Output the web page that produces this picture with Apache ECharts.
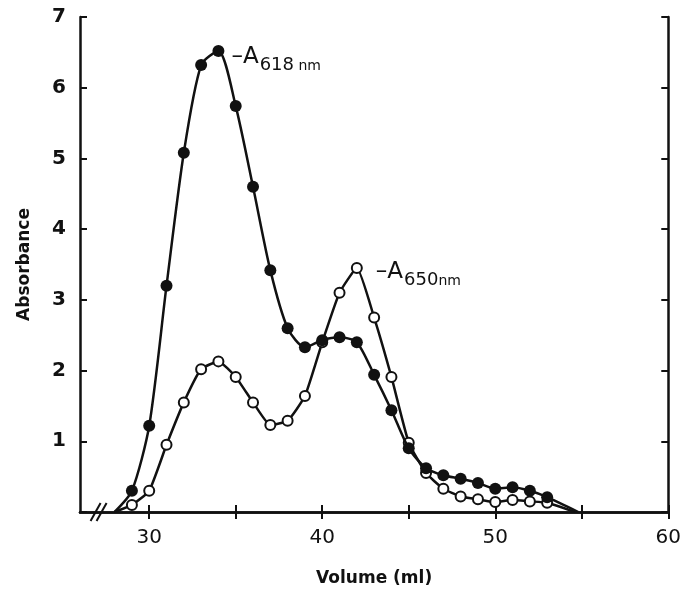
<!DOCTYPE html>
<html>
<head>
<meta charset="utf-8">
<script src="https://cdn.jsdelivr.net/npm/echarts@6/dist/echarts.min.js"></script>
<style>
  html, body { margin: 0; padding: 0; background: #fff; }
  #chart { width: 684px; height: 592px; }
</style>
</head>
<body>
<div id="chart"></div>
<script>
// elution volumes (ml)
const volume = [29, 30, 31, 32, 33, 34, 35, 36, 37, 38, 39, 40, 41, 42, 43, 44, 45, 46, 47, 48, 49, 50, 51, 52, 53];
// absorbance at 618 nm (filled circles)
const a618 = [0.30, 1.22, 3.20, 5.08, 6.32, 6.52, 5.74, 4.60, 3.42, 2.60, 2.33, 2.43, 2.47, 2.40, 1.94, 1.44, 0.90, 0.62, 0.52, 0.47, 0.41, 0.33, 0.35, 0.30, 0.21];
// absorbance at 650 nm (open circles)
const a650 = [0.10, 0.30, 0.95, 1.55, 2.02, 2.13, 1.91, 1.55, 1.23, 1.29, 1.64, 2.40, 3.10, 3.45, 2.75, 1.91, 0.98, 0.55, 0.33, 0.22, 0.18, 0.14, 0.17, 0.15, 0.13];
// where the traced curves meet the baseline
const startVol = 28;
const endVol618 = 54.8;
const endVol650 = 54.6;

const xTicks = [30, 35, 40, 45, 50, 55, 60];
const xLabels = [30, 40, 50, 60];

const ink = '#111';
const font = 'DejaVu Sans';

function buildData(values, endVol, labelAt, labelText) {
  const d = [{ value: [startVol, 0], symbol: 'none' }];
  volume.forEach((v, i) => {
    const item = { value: [v, values[i]] };
    if (v === labelAt) {
      item.label = { show: true, formatter: labelText };
    }
    d.push(item);
  });
  d.push({ value: [endVol, 0], symbol: 'none' });
  return d;
}

const richLabel = {
  d: { fontFamily: font, fontSize: 23, color: ink },
  s: { fontFamily: font, fontSize: 18, color: ink, padding: [16, 0, 0, 1] },
  n: { fontFamily: font, fontSize: 14, color: ink, padding: [18, 0, 0, 0] }
};

let myChart = echarts.init(document.getElementById('chart'));
myChart.setOption({
  animation: false,
  grid: { left: 80, right: 13, top: 17, bottom: 80 },
  xAxis: [{
    type: 'value',
    min: 26,
    max: 60,
    position: 'bottom',
    name: 'Volume (ml)',
    nameLocation: 'middle',
    nameGap: 58,
    nameTextStyle: { fontFamily: font, fontSize: 17, fontWeight: 'bold', color: ink },
    axisLine: { lineStyle: { color: ink, width: 2.5 } },
    axisTick: { inside: true, length: 7, lineStyle: { color: ink, width: 2 }, customValues: xTicks },
    axisLabel: { customValues: xLabels, margin: 16, fontFamily: font, fontSize: 20, color: ink },
    splitLine: { show: false }
  }, {
    type: 'value',
    min: 26,
    max: 60,
    position: 'top',
    axisLine: { lineStyle: { color: ink, width: 2.5 } },
    axisTick: { inside: true, length: 7, lineStyle: { color: ink, width: 2 }, customValues: xTicks },
    axisLabel: { show: false },
    splitLine: { show: false }
  }],
  yAxis: [{
    type: 'value',
    min: 0,
    max: 7,
    interval: 1,
    position: 'left',
    name: 'Absorbance',
    nameLocation: 'middle',
    nameGap: 47,
    nameTextStyle: { fontFamily: font, fontSize: 17, fontWeight: 'bold', color: ink },
    axisLine: { show: true, lineStyle: { color: ink, width: 2.5 } },
    axisTick: { show: true, inside: true, length: 7, lineStyle: { color: ink, width: 2 } },
    axisLabel: {
      margin: 14, fontFamily: font, fontSize: 20, fontWeight: 'bold', color: ink,
      formatter: v => (v === 0 ? '' : v)
    },
    splitLine: { show: false }
  }, {
    type: 'value',
    min: 0,
    max: 7,
    interval: 1,
    position: 'right',
    axisLine: { show: true, lineStyle: { color: ink, width: 2.5 } },
    axisTick: { show: true, inside: true, length: 7, lineStyle: { color: ink, width: 2 } },
    axisLabel: { show: false },
    splitLine: { show: false }
  }],
  series: [{
    name: 'A650',
    type: 'line',
    smooth: 0.15,
    symbol: 'circle',
    symbolSize: 10,
    z: 2,
    lineStyle: { color: ink, width: 2.5 },
    itemStyle: { color: '#fff', borderColor: ink, borderWidth: 2 },
    label: { position: 'right', distance: 13, offset: [0, 4], rich: richLabel },
    data: buildData(a650, endVol650, 42, '{d|–A}{s|650}{n|nm}')
  }, {
    name: 'A618',
    type: 'line',
    smooth: 0.25,
    symbol: 'circle',
    symbolSize: 12,
    z: 3,
    lineStyle: { color: ink, width: 2.5 },
    itemStyle: { color: ink, borderColor: ink, borderWidth: 0 },
    label: { position: 'right', distance: 7, offset: [0, 6], rich: richLabel },
    data: buildData(a618, endVol618, 34, '{d|–A}{s|618}{n| nm}')
  }]
});

// axis break mark "//" on the volume axis
const brk = myChart.convertToPixel({ xAxisIndex: 0, yAxisIndex: 0 }, [26.9, 0]);
myChart.setOption({
  graphic: [0, 6].map(dx => ({
    type: 'line',
    shape: { x1: brk[0] + dx - 5, y1: brk[1] + 9, x2: brk[0] + dx + 5, y2: brk[1] - 9 },
    style: { stroke: ink, lineWidth: 2 }
  }))
});
</script>
</body>
</html>
